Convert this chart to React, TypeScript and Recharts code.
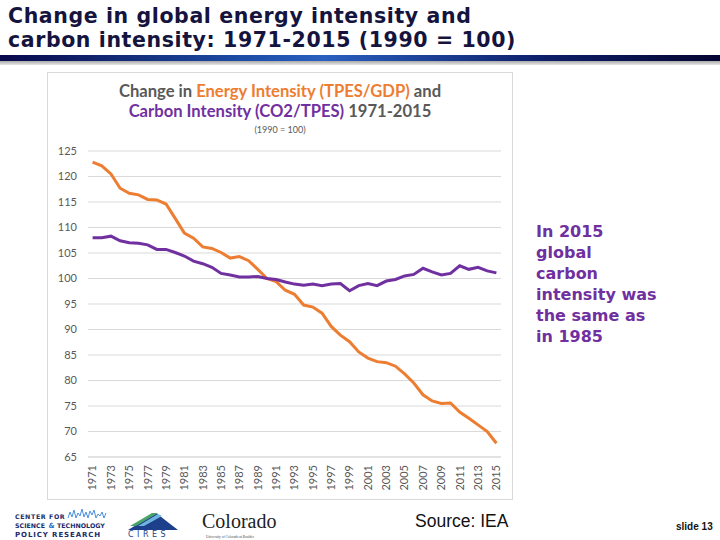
import React from "react";
import { LineChart, Line, XAxis, YAxis, CartesianGrid } from "recharts";

// IEA index series, 1990 = 100
const years = [
  1971, 1972, 1973, 1974, 1975, 1976, 1977, 1978, 1979, 1980,
  1981, 1982, 1983, 1984, 1985, 1986, 1987, 1988, 1989, 1990,
  1991, 1992, 1993, 1994, 1995, 1996, 1997, 1998, 1999, 2000,
  2001, 2002, 2003, 2004, 2005, 2006, 2007, 2008, 2009, 2010,
  2011, 2012, 2013, 2014, 2015,
];

// TPES/GDP
const energyIntensity = [
  122.8, 122.1, 120.5, 117.7, 116.7, 116.4, 115.5, 115.4, 114.6, 111.8,
  108.9, 107.9, 106.2, 105.9, 105.1, 104.0, 104.3, 103.5, 101.8, 100.0,
  99.4, 97.7, 96.9, 94.8, 94.4, 93.2, 90.6, 88.9, 87.6, 85.6,
  84.4, 83.7, 83.5, 82.8, 81.3, 79.5, 77.2, 76.0, 75.5, 75.6,
  73.8, 72.6, 71.3, 70.0, 67.7,
];

// CO2/TPES
const carbonIntensity = [
  108.0, 108.0, 108.3, 107.4, 107.0, 106.9, 106.6, 105.7, 105.7, 105.1,
  104.4, 103.4, 102.9, 102.2, 101.0, 100.7, 100.3, 100.3, 100.4, 100.0,
  99.8, 99.3, 98.9, 98.7, 98.9, 98.6, 98.9, 99.0, 97.6, 98.6,
  99.0, 98.6, 99.5, 99.8, 100.5, 100.8, 102.0, 101.3, 100.7, 101.0,
  102.5, 101.8, 102.2, 101.5, 101.1,
];

const yTicks = [65, 70, 75, 80, 85, 90, 95, 100, 105, 110, 115, 120, 125];

const headingLines = [
  "Change in global energy intensity and",
  "carbon intensity: 1971-2015 (1990 = 100)",
];

const ORANGE = "#ED7D31";
const PURPLE = "#7030A0";
const GREY = "#595959";
const GRID = "#D9D9D9";
const NAVY = "#14143E";

const data = years.map((year, i) => ({
  year,
  energy: energyIntensity[i],
  carbon: carbonIntensity[i],
}));

const YearTick = ({ x, y, payload }: any) => (
  <text
    x={x}
    y={y}
    transform={`rotate(-90, ${x}, ${y})`}
    textAnchor="end"
    dy="0.35em"
    fill={GREY}
    fontSize={11}
    fontFamily="Lato, sans-serif"
  >
    {payload.value}
  </text>
);

const abs = (left: number, top: number, extra: React.CSSProperties = {}): React.CSSProperties => ({
  position: "absolute",
  left,
  top,
  ...extra,
});

export default function App() {
  return (
    <div style={abs(0, 0, { width: 720, height: 540, background: "#fff", overflow: "hidden" })}>
      {/* slide heading, one block per line */}
      {headingLines.map((line, i) => (
        <div
          key={line}
          style={abs(8, 4 + i * 24, {
            height: 24,
            fontFamily: "'DejaVu Sans', Verdana, sans-serif",
            fontWeight: 700,
            fontSize: 20.5,
            letterSpacing: 0.6,
            lineHeight: "24px",
            color: NAVY,
            whiteSpace: "nowrap",
          })}
        >
          {line}
        </div>
      ))}
      <div style={abs(0, 60, { width: 720, height: 5, background: "linear-gradient(#9a9a9a, #e6e6e6)" })} />
      <div
        style={abs(0, 55, {
          width: 720,
          height: 6,
          background: "linear-gradient(to right, #08084a 0%, #1d4fa8 35%, #2a5fbf 45%, #0d1f6a 75%, #050530 100%)",
        })}
      />

      {/* chart frame */}
      <div style={abs(47, 72, { width: 466, height: 428, boxSizing: "border-box", border: `1px solid ${GRID}` })} />
      <div
        style={abs(47, 81, {
          width: 466,
          textAlign: "center",
          fontFamily: "Lato, sans-serif",
          fontWeight: 700,
          fontSize: 16.6,
          lineHeight: "20px",
          color: GREY,
        })}
      >
        Change in <span style={{ color: ORANGE }}>Energy Intensity (TPES/GDP)</span> and
        <br />
        <span style={{ color: PURPLE }}>Carbon Intensity (CO2/TPES)</span> 1971-2015
        <div style={{ fontSize: 9, fontWeight: 400, lineHeight: "17px" }}>(1990 = 100)</div>
      </div>

      <div style={abs(47, 72)}>
        <LineChart width={466} height={428} data={data} margin={{ top: 79, right: 12, left: 0, bottom: 0 }}>
          <CartesianGrid vertical={false} stroke={GRID} />
          <XAxis
            dataKey="year"
            interval={1}
            height={43}
            tickLine={false}
            axisLine={{ stroke: GRID }}
            padding={{ left: 4.6, right: 4.6 }}
            tick={<YearTick />}
          />
          <YAxis
            width={41}
            domain={[65, 125]}
            ticks={yTicks}
            axisLine={false}
            tickLine={false}
            tickMargin={5}
            tick={{ fill: GREY, fontSize: 11, fontFamily: "Lato, sans-serif" }}
          />
          <Line
            type="linear"
            dataKey="energy"
            stroke={ORANGE}
            strokeWidth={3}
            dot={false}
            isAnimationActive={false}
          />
          <Line
            type="linear"
            dataKey="carbon"
            stroke={PURPLE}
            strokeWidth={3}
            dot={false}
            isAnimationActive={false}
          />
        </LineChart>
      </div>

      {/* callout */}
      <div
        style={abs(536, 221, {
          fontFamily: "'DejaVu Sans', Verdana, sans-serif",
          fontWeight: 700,
          fontSize: 16,
          lineHeight: "21px",
          color: PURPLE,
        })}
      >
        In 2015
        <br />
        global
        <br />
        carbon
        <br />
        intensity was
        <br />
        the same as
        <br />
        in 1985
      </div>

      {/* footer logos */}
      <svg style={abs(12, 506)} width={280} height={34}>
        <g fontFamily="'DejaVu Sans', sans-serif" fontWeight={700} fill="#1b2a6b">
          <text x={3} y={13} fontSize={6.3} letterSpacing={0.6}>CENTER</text>
          <text x={37} y={13} fontSize={6.3} letterSpacing={0.6}>FOR</text>
          <text x={3} y={21.5} fontSize={6.3}>SCIENCE</text>
          <text x={45} y={21.5} fontSize={6.3}>TECHNOLOGY</text>
          <text x={3} y={31} fontSize={7} letterSpacing={0.9}>POLICY RESEARCH</text>
          <text x={36.5} y={21.5} fontSize={7} fill="#2f6fd0">&amp;</text>
        </g>
        <polyline
          points="56,12 58,6 60,11 62,4 64,12 66,7 68,10 70,3 72,11 74,6 76,12 78,5 80,9 82,4 84,12 86,8 88,10 90,6 92,12 94,7"
          fill="none"
          stroke="#4a8fe0"
          strokeWidth={1}
        />
        <polygon points="116,24 144,7 166,24" fill="#1d3f8c" />
        <polygon points="118,20 140,7 146,7 124,20" fill="#4aa46a" />
        <polygon points="126,20 146,8 150,10 132,20" fill="#6fb3e0" />
        <text x={116} y={31} fontSize={8} letterSpacing={3.5} fill="#1d3f8c" fontFamily="'DejaVu Sans', sans-serif">
          CIRES
        </text>
        <text x={190} y={22} fontSize={20} fill="#222" fontFamily="'Liberation Serif', serif">
          Colorado
        </text>
        <text x={194} y={31.5} fontSize={3.5} fill="#444" fontFamily="'Liberation Serif', serif">
          University of Colorado at Boulder
        </text>
      </svg>

      <div style={abs(415, 511, { fontFamily: "'Liberation Sans', Arial, sans-serif", fontSize: 17.5, color: "#111" })}>
        Source: IEA
      </div>
      <div
        style={abs(676, 521, {
          fontFamily: "'Liberation Sans', Arial, sans-serif",
          fontWeight: 700,
          fontSize: 10,
          color: "#111",
        })}
      >
        slide 13
      </div>
    </div>
  );
}
